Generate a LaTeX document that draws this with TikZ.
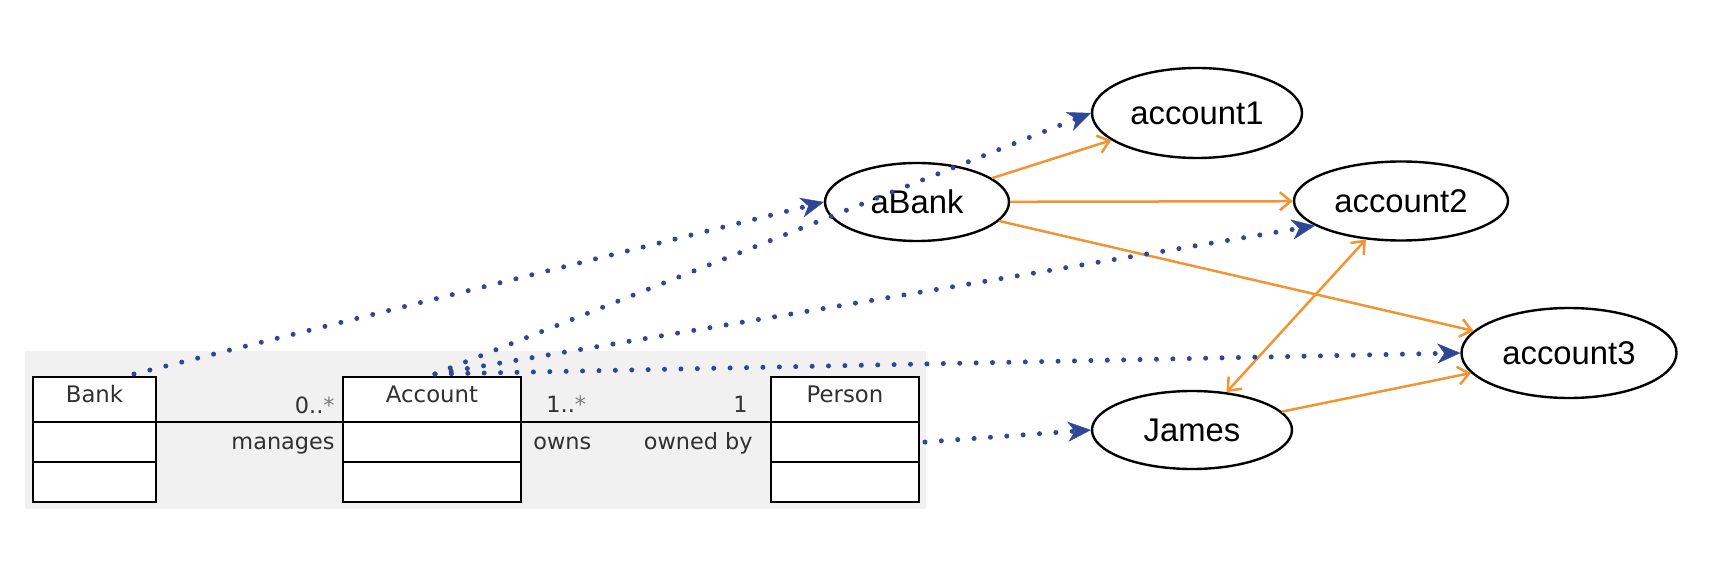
\documentclass[tikz,border=0pt]{standalone}
\usepackage{fontspec}
\newfontfamily\umlfont{DejaVu Sans}
\newfontfamily\objfont{Liberation Sans}
\usetikzlibrary{shapes.geometric,arrows.meta,positioning}
\definecolor{linkblue}{RGB}{44,72,150}
\definecolor{reforange}{RGB}{243,148,50}
\definecolor{panelgray}{RGB}{241,241,241}
\definecolor{umltext}{RGB}{48,48,48}
\definecolor{stargray}{RGB}{125,125,125}

\begin{document}
\begin{tikzpicture}[x=0.5pt, y=-0.5pt,
      classname/.style={rectangle, draw, line width=1pt, fill=white, inner sep=0pt, outer sep=0pt, minimum height=22.5pt,
        text height=8pt, text depth=5.5pt, text=umltext, font=\umlfont\fontsize{11.4}{13}\selectfont},
      compart/.style={rectangle, draw, line width=1pt, fill=white, inner sep=0pt, outer sep=0pt, minimum height=20pt},
      role/.style={inner sep=0pt, text=umltext, font=\umlfont\fontsize{11.2}{13}\selectfont},
      object/.style={ellipse, draw, line width=1.2pt, inner sep=0pt, font=\objfont\fontsize{16.4}{18}\selectfont},
      link/.style={linkblue, line width=2.5pt, line cap=round, dash pattern=on 0pt off 8.2pt,
        -{Stealth[length=11.5pt, width=10pt, inset=3.5pt, line width=0.2pt]}},
      ref/.style={reforange, line width=1.25pt},
      >={Straight Barb[length=5.5pt, width=9pt]}]
      \useasboundingbox (0,0) rectangle (1718,572);
      \fill[panelgray] (25,351) rectangle (926,509);
      % class diagram
      \node[classname, minimum width=61.5pt](bankT) at (94.5, 399.5){Bank};
      \node[compart, minimum width=61.5pt, below=0pt of bankT](bankA){};
      \node[compart, minimum width=61.5pt, below=0pt of bankA](bankO){};
      \node[classname, minimum width=89pt](accT) at (432, 399.5){Account};
      \node[compart, minimum width=89pt, below=0pt of accT](accA){};
      \node[compart, minimum width=89pt, below=0pt of accA](accO){};
      \node[classname, minimum width=74pt](personT) at (845, 399.5){Person};
      \node[compart, minimum width=74pt, below=0pt of personT](personA){};
      \node[compart, minimum width=74pt, below=0pt of personA](personO){};
      \draw[line width=0.75pt] (bankT.south east) -- (accT.south west);
      \draw[line width=0.75pt] (accT.south east) -- (personT.south west);
      \node[role, anchor=base east](manmult) at (335, 413){0..\textcolor{stargray}{*}};
      \node[role, anchor=base east](manname) at (335, 449){manages};
      \node[role, anchor=base west](ownmult) at (546, 412){1..\textcolor{stargray}{*}};
      \node[role, anchor=base west](ownname) at (533, 449){owns};
      \node[role, anchor=base east](bymult) at (748, 412){1};
      \node[role, anchor=base east](byname) at (753, 449){owned by};
      % object diagram
      \node[object, minimum width=92pt, minimum height=39pt](abank) at (917, 202){aBank};
      \node[object, minimum width=105pt, minimum height=45pt](account1) at (1197, 113){account1};
      \node[object, minimum width=107pt, minimum height=39.5pt](account2) at (1401, 201){account2};
      \node[object, minimum width=107.5pt, minimum height=45pt](account3) at (1569, 353){account3};
      \node[object, minimum width=100pt, minimum height=39pt](james) at (1192, 430){James};
      \draw[ref, ->] (abank) -- (account1);
      \draw[ref, ->] (abank) -- (account2);
      \draw[ref, ->] (abank) -- (account3);
      \draw[ref, <->] (james) -- (account2);
      \draw[ref, ->] (james) -- (account3);
      % instance-of links
      \coordinate(bankout) at (134, 374);
      \coordinate(accout) at (435, 374);
      \coordinate(personout) at (925, 442);
      \draw[link] (bankout) -- (abank.west);
      \draw[link] (accout) -- (account1.west);
      \draw[link] (accout) -- (account2.196);
      \draw[link] (accout) -- (account3.west);
      \draw[link] (personout) -- (james.west);
    \end{tikzpicture}
\end{document}
